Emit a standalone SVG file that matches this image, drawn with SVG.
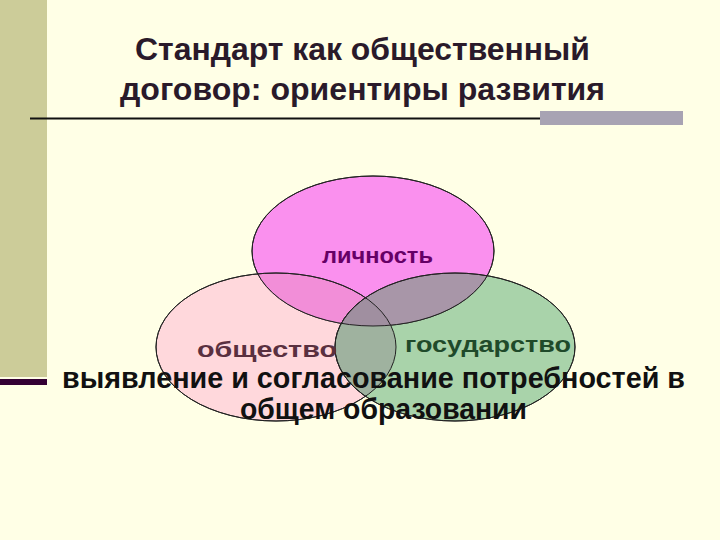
<svg xmlns="http://www.w3.org/2000/svg" width="720" height="540" viewBox="0 0 720 540">
<style>
text{font-family:"Liberation Sans",Arial,sans-serif;font-weight:bold}
.t{font-size:31px;fill:#2a1a2a}
.l{font-size:22px}
.b{font-size:29px;fill:#111}
ellipse{stroke:#222;stroke-width:1}
</style>
<defs>
<clipPath id="cL"><ellipse cx="276" cy="347" rx="120" ry="74"/></clipPath>
<clipPath id="cR"><ellipse cx="455" cy="347" rx="120" ry="74"/></clipPath>
<clipPath id="cT"><ellipse cx="373" cy="251" rx="121" ry="75"/></clipPath>
</defs>
<rect width="720" height="540" fill="#ffffe6"/>
<rect x="0" y="0" width="47" height="377" fill="#cccc99"/>
<rect x="0" y="379" width="47" height="6" fill="#330033"/>
<text class="t" x="135" y="60" textLength="455" lengthAdjust="spacingAndGlyphs">Стандарт как общественный</text>
<text class="t" x="120" y="100" textLength="485" lengthAdjust="spacingAndGlyphs">договор: ориентиры развития</text>
<rect x="540" y="111" width="143" height="14" fill="#a8a3b3"/>
<line x1="30" y1="118.5" x2="540" y2="118.5" stroke="#111" stroke-width="2"/>
<g id="obshchestvo"><ellipse cx="276" cy="347" rx="120" ry="74" fill="#ffd8dc"/></g>
<g id="gosudarstvo"><ellipse cx="455" cy="347" rx="120" ry="74" fill="#a9d3aa"/></g>
<g id="lichnost"><ellipse cx="373" cy="251" rx="121" ry="75" fill="#fa90ee"/></g>
<g id="overlaps" stroke="none">
<g clip-path="url(#cL)"><ellipse cx="455" cy="347" rx="120" ry="74" fill="#9fb29f" stroke="none"/></g>
<g clip-path="url(#cT)"><ellipse cx="276" cy="347" rx="120" ry="74" fill="#f28ed8" stroke="none"/></g>
<g clip-path="url(#cT)"><ellipse cx="455" cy="347" rx="120" ry="74" fill="#a896a8" stroke="none"/></g>
<g clip-path="url(#cT)"><g clip-path="url(#cL)"><ellipse cx="455" cy="347" rx="120" ry="74" fill="#a08fa0" stroke="none"/></g></g>
</g>
<g id="outlines" fill="none">
<ellipse cx="276" cy="347" rx="120" ry="74"/>
<ellipse cx="455" cy="347" rx="120" ry="74"/>
<ellipse cx="373" cy="251" rx="121" ry="75"/>
</g>
<text class="l" x="322" y="263" fill="#660066" textLength="111" lengthAdjust="spacingAndGlyphs">личность</text>
<text class="l" x="197" y="357" fill="#5a3040" textLength="140" lengthAdjust="spacingAndGlyphs">общество</text>
<text class="l" x="405" y="352" fill="#1f4a2a" textLength="166" lengthAdjust="spacingAndGlyphs">государство</text>
<text class="b" x="62" y="388" textLength="623" lengthAdjust="spacingAndGlyphs">выявление и согласование потребностей в</text>
<text class="b" x="240" y="419" textLength="287" lengthAdjust="spacingAndGlyphs">общем образовании</text>
</svg>
